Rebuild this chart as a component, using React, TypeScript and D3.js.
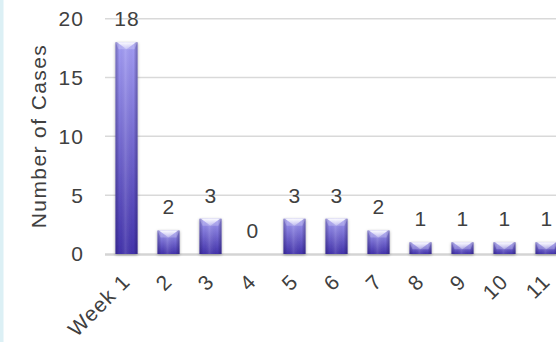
import * as d3 from "d3";

const categories = ["Week 1", "2", "3", "4", "5", "6", "7", "8", "9", "10", "11"];
const cases = [18, 2, 3, 0, 3, 3, 2, 1, 1, 1, 1];
const yTicks = [0, 5, 10, 15, 20];

const W = 556;
const H = 342;
const FONT = "'Liberation Sans', Arial, sans-serif";
const TEXT = "#404040";

export default function App() {
  const x = d3.scaleBand<string>().domain(categories).range([105.5, 567.5]).paddingInner(0.476).paddingOuter(0.238);
  const y = d3.scaleLinear().domain([0, 20]).range([254, 18.7]);
  const bw = x.bandwidth();

  return (
    <div style={{ position: "fixed", left: 0, top: 0 }}>
      <svg width={W} height={H} style={{ display: "block", background: "#fff" }}>
        <defs>
          <linearGradient id="body" x1="0" y1="0" x2="0" y2="1">
            <stop offset="0" stopColor="#a29cf2" />
            <stop offset="1" stopColor="#4232aa" />
          </linearGradient>
          <linearGradient id="edge" x1="0" y1="0" x2="1" y2="0">
            <stop offset="0" stopColor="#1a1050" stopOpacity="0.35" />
            <stop offset="0.18" stopColor="#1a1050" stopOpacity="0" />
            <stop offset="0.45" stopColor="#ffffff" stopOpacity="0.12" />
            <stop offset="0.82" stopColor="#1a1050" stopOpacity="0" />
            <stop offset="1" stopColor="#1a1050" stopOpacity="0.4" />
          </linearGradient>
          <linearGradient id="cap" x1="0" y1="0" x2="0" y2="1">
            <stop offset="0" stopColor="#ffffff" stopOpacity="0.95" />
            <stop offset="1" stopColor="#ffffff" stopOpacity="0.2" />
          </linearGradient>
          <filter id="shadow" x="-30%" y="-30%" width="160%" height="160%">
            <feDropShadow dx="0" dy="1" stdDeviation="1.6" floodColor="#000" floodOpacity="0.35" />
          </filter>
        </defs>

        <rect x={0} y={0} width={3.5} height={H} fill="#dcf0f5" />

        {yTicks.filter((t) => t > 0).map((t) => (
          <line key={t} x1={105} x2={W} y1={y(t)} y2={y(t)} stroke="#d9d9d9" strokeWidth={1.5} />
        ))}
        <line x1={105} x2={W} y1={y(0) + 0.5} y2={y(0) + 0.5} stroke="#d4d4d4" strokeWidth={2.5} />

        {yTicks.map((t) => (
          <text key={t} x={84} y={y(t)} dy="0.35em" textAnchor="end" fontFamily={FONT} fontSize={21} letterSpacing={1.1} fill={TEXT}>
            {t}
          </text>
        ))}

        <text
          transform={`translate(46,136) rotate(-90)`}
          textAnchor="middle"
          fontFamily={FONT}
          fontSize={21}
          letterSpacing={1.4}
          fill={TEXT}
        >
          Number of Cases
        </text>

        {categories.map((c, i) => {
          const v = cases[i];
          const x0 = x(c)!;
          const top = y(v);
          const h = y(0) - top;
          const capH = Math.min(7, h);
          return (
            <g key={c}>
              {h > 0 && (
                <g filter="url(#shadow)">
                  <rect x={x0} y={top} width={bw} height={h} fill="url(#body)" />
                  <rect x={x0} y={top} width={bw} height={h} fill="url(#edge)" />
                  <path
                    d={`M${x0},${top}L${x0 + bw},${top}L${x0 + bw - 3},${top + capH}L${x0 + 3},${top + capH}Z`}
                    fill="#ffffff"
                    fillOpacity={0.22}
                  />
                  <path
                    d={`M${x0 + 1.5},${top}L${x0 + bw - 1.5},${top}L${x0 + bw / 2},${top + capH}Z`}
                    fill="url(#cap)"
                  />
                </g>
              )}
              <text
                x={x0 + bw / 2 + 0.5}
                y={top - 16}
                textAnchor="middle"
                fontFamily={FONT}
                fontSize={21}
                letterSpacing={1.1}
                fill={TEXT}
              >
                {v}
              </text>
              <text
                transform={`translate(${x0 + bw / 2 + 5},${y(0) + 29}) rotate(-45)`}
                textAnchor="end"
                fontFamily={FONT}
                fontSize={21}
                letterSpacing={1.1}
                fill={TEXT}
              >
                {c}
              </text>
            </g>
          );
        })}
      </svg>
    </div>
  );
}
